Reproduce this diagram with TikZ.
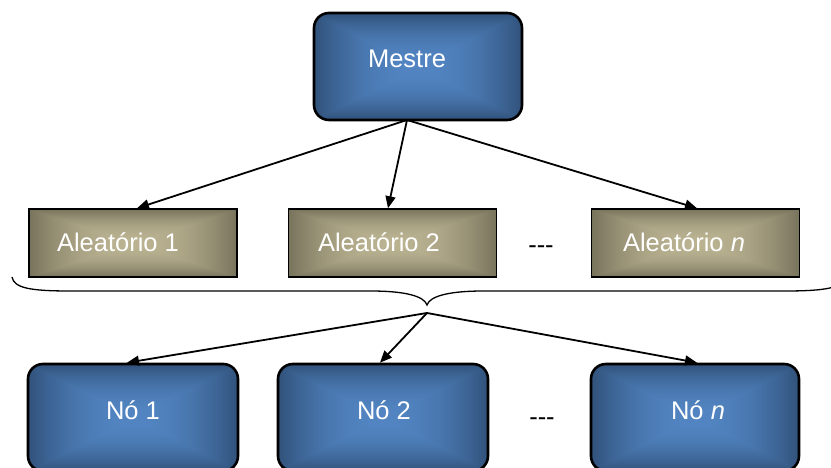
\documentclass[tikz,border=0pt]{standalone}
\usepackage{fontspec}
\setmainfont{Liberation Sans}
\usetikzlibrary{arrows.meta}
\pgfdeclarefunctionalshading{khakishade}{\pgfpoint{0bp}{0bp}}{\pgfpoint{100bp}{100bp}}{}{
  50 sub abs 25 div exch 50 sub abs 25 div 2 copy lt {exch} if pop
  dup 1 gt {pop 1} if
  dup mul
  dup -0.26 mul 0.73 add
  exch dup -0.25 mul 0.70 add
  exch -0.21 mul 0.57 add
}
\pgfdeclarefunctionalshading{blueshade}{\pgfpoint{0bp}{0bp}}{\pgfpoint{100bp}{100bp}}{}{
  50 sub abs 25 div exch 50 sub abs 25 div 2 copy lt {exch} if pop
  dup 1 gt {pop 1} if
  dup mul
  dup -0.13 mul 0.32 add
  exch dup -0.20 mul 0.52 add
  exch -0.28 mul 0.76 add
}
\tikzset{
  bluebox/.style={draw=black, line width=2.6pt, rounded corners=15pt, shading=blueshade,
    minimum width=208pt, minimum height=107pt, inner sep=0pt},
  khakibox/.style={draw=black, line width=1.5pt, shading=khakishade,
    minimum width=208pt, minimum height=68pt, inner sep=0pt},
  lbl/.style={text=white, anchor=base, inner sep=0pt, font=\fontsize{25.5}{30}\selectfont},
  dots/.style={text=black, anchor=base, inner sep=0pt, font=\fontsize{25.5}{30}\selectfont},
  arr/.style={line width=1.8pt, -{Triangle[length=12pt,width=10pt]}},
  bracestyle/.style={line width=1.3pt}
}
\begin{document}
\begin{tikzpicture}[x=1pt,y=1pt]
\useasboundingbox (0,0) rectangle (831,468);
% top
\node[bluebox] (m) at (418,401.5) {};
\node[lbl] (mt) at (407,400) {Mestre};
% middle
\node[khakibox] (a1) at (133,225) {};
\node[khakibox] (a2) at (392.5,225) {};
\node[khakibox] (an) at (695.5,225) {};
\node[lbl] (a1t) at (118,216) {Aleatório 1};
\node[lbl] (a2t) at (379,216) {Aleatório 2};
\node[lbl] (ant) at (684,216) {Aleatório \textit{n}};
\node[dots] (d1) at (541,214) {-{}-{}-};
% bottom
\node[bluebox, minimum width=210pt] (n1) at (133,50.5) {};
\node[bluebox, minimum width=210pt] (n2) at (383,50.5) {};
\node[bluebox] (nn) at (695,50.5) {};
\node[lbl] (n1t) at (133,48) {Nó 1};
\node[lbl] (n2t) at (384,48) {Nó 2};
\node[lbl] (nnt) at (698,48) {Nó \textit{n}};
\node[dots] (d2) at (542,42) {-{}-{}-};
% arrows from master
\coordinate (ms) at (407,348);
\draw[arr] (ms) -- ([xshift=4pt]a1.north);
\draw[arr] (ms) -- ([xshift=-4.5pt]a2.north);
\draw[arr] (ms) -- ([xshift=1.5pt]an.north);
% brace
\coordinate (bl) at (12,191);
\coordinate (bt) at (427,163);
\coordinate (br) at (845,191);
\draw[bracestyle] (bl) .. controls (14,180) and (30,177) .. (70,177) -- (370,177)
  .. controls (405,177) and (424,172) .. (bt)
  .. controls (430,172) and (449,177) .. (484,177) -- (785,177)
  .. controls (825,177) and (843,180) .. (br);
% arrows from brace
\coordinate (bs) at (427,155);
\draw[arr] (bs) -- ([xshift=-6pt]n1.north);
\draw[arr] (bs) -- ([xshift=-3pt]n2.north);
\draw[arr] (bs) -- ([xshift=2pt]nn.north);
\end{tikzpicture}
\end{document}
